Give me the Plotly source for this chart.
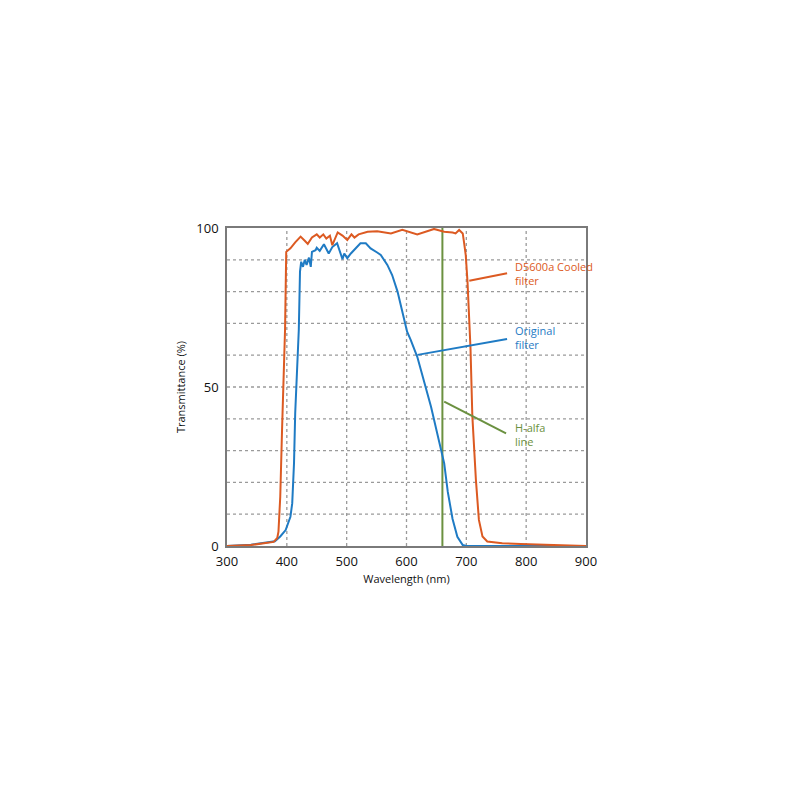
import plotly.graph_objects as go

# D5600a Cooled filter
cooled_wl = [300, 340, 378, 384, 386, 389, 392, 395, 397, 399, 406, 414, 423, 430, 435, 442, 450, 455, 461, 466,
             472, 476, 485, 493, 501, 508, 513, 520, 535, 551, 574, 593, 618, 646, 663, 677, 682, 688, 694, 696,
             699, 702, 707, 710, 716, 721, 727, 735, 760, 791, 850, 900]
cooled_t = [0, 0.3, 1.3, 2.5, 4.5, 15.5, 36.5, 57.5, 68, 92.5, 93.6, 95.5, 97.3, 96, 95, 97, 98, 97, 98, 96.7,
            97.6, 94.6, 98.6, 97.6, 96.2, 98, 97, 98, 98.8, 99, 98.3, 99.4, 98, 99.7, 98.8, 98.6, 98.3, 99.4, 98.3, 95.7,
            91.5, 83, 62, 41, 20.8, 8.2, 3, 1.4, 0.9, 0.6, 0.2, 0]

# Original filter
orig_wl = [300, 340, 380, 389, 398, 406, 409, 412, 414, 417, 420, 422, 424, 427, 430, 433, 437, 440, 442, 448,
           450, 455, 462, 470, 476, 484, 493, 496, 501, 507, 515, 523, 532, 540, 551, 557, 568, 576, 585, 593,
           601, 607, 618, 641, 660, 663, 669, 677, 685, 694, 700, 900]
orig_t = [0, 0.4, 1.5, 3, 5, 9.2, 13.4, 26, 41.8, 57.5, 68, 86.3, 89.4, 87.8, 90, 88.4, 90.7, 87.8, 92.5, 93,
          93.8, 92.8, 94.9, 92, 94, 95.2, 90.2, 92, 90.5, 92, 93.6, 95.2, 95.2, 93.6, 92.3, 91.5, 88.4, 85.2, 80, 73.7,
          67.4, 64.8, 59.5, 43.8, 29.2, 26, 17, 8.5, 2.9, 0.3, 0, 0]

# H-alpha line
halpha_wl = [660, 660]
halpha_t = [0, 100]

x_ticks = [300, 400, 500, 600, 700, 800, 900]
y_ticks = [0, 50, 100]

ORANGE = "#dc5a22"
BLUE = "#1f7bc4"
GREEN = "#6b9140"
FONT = "Open Sans"

fig = go.Figure()
fig.add_trace(go.Scatter(x=halpha_wl, y=halpha_t, mode="lines", line=dict(color=GREEN, width=2), hoverinfo="skip"))
fig.add_trace(go.Scatter(x=orig_wl, y=orig_t, mode="lines", line=dict(color=BLUE, width=2)))
fig.add_trace(go.Scatter(x=cooled_wl, y=cooled_t, mode="lines", line=dict(color=ORANGE, width=2)))

# grid lines (dotted) every 10 % and every 100 nm
for yv in range(10, 100, 10):
    fig.add_shape(type="line", xref="x", yref="y", x0=300, x1=900, y0=yv, y1=yv,
                  line=dict(color="#9a9a9a", width=1.3, dash="dot"), layer="below")
for xv in range(400, 900, 100):
    fig.add_shape(type="line", xref="x", yref="y", x0=xv, x1=xv, y0=0, y1=100,
                  line=dict(color="#9a9a9a", width=1.3, dash="dot"), layer="below")

# leader lines
leaders = [
    ((704.9, 83.4), (768.1, 85.8), ORANGE),
    ((618.4, 60.1), (768.1, 65.1), BLUE),
    ((663.0, 45.4), (766.4, 35.4), GREEN),
]
for (x0, y0), (x1, y1), c in leaders:
    fig.add_shape(type="line", xref="x", yref="y", x0=x0, y0=y0, x1=x1, y1=y1,
                  line=dict(color=c, width=2))

labels = [
    ("D5600a Cooled<br>filter", 85.6, ORANGE),
    ("Original<br>filter", 65.6, BLUE),
    ("H-alfa<br>line", 35.2, GREEN),
]
for txt, yv, c in labels:
    fig.add_annotation(x=777.6, y=yv, xref="x", yref="y", text=txt, showarrow=False,
                       xanchor="left", yanchor="middle", align="left",
                       font=dict(family=FONT, size=11, color=c))

fig.update_layout(
    width=800, height=800,
    margin=dict(l=219, r=222, t=220, b=262),
    paper_bgcolor="white", plot_bgcolor="white",
    showlegend=False,
    font=dict(family=FONT, color="#111"),
)
fig.update_xaxes(range=[300, 900], tickvals=x_ticks, ticktext=[str(v) for v in x_ticks],
                 showgrid=False, zeroline=False, showline=True, linecolor="#7a7a7a", linewidth=1.5,
                 mirror=True, ticks="", ticklabelstandoff=3,
                 tickfont=dict(family=FONT, size=13, color="#111"),
                 title=dict(text="Wavelength (nm)", font=dict(family=FONT, size=11, color="#111"), standoff=6))
fig.update_yaxes(range=[0, 100], tickvals=y_ticks, ticktext=[str(v) for v in y_ticks],
                 showgrid=False, zeroline=False, showline=True, linecolor="#7a7a7a", linewidth=1.5,
                 mirror=True, ticks="", ticklabelstandoff=4,
                 tickfont=dict(family=FONT, size=13, color="#111"),
                 title=dict(text="Transmittance (%)", font=dict(family=FONT, size=11, color="#111"), standoff=8))

fig.write_html("out.html")
